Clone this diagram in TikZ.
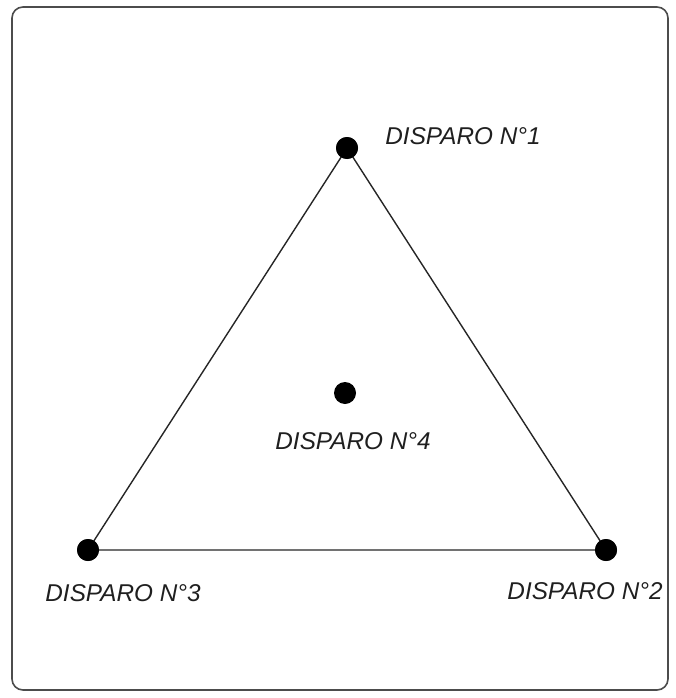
\documentclass[tikz,border=0pt]{standalone}
\usepackage{fontspec}
\setmainfont{Liberation Sans}
\begin{document}
\begin{tikzpicture}[x=1pt,y=-1pt,
  dot/.style={circle,fill=black,inner sep=0pt,minimum size=22pt},
  lbl/.style={font=\fontsize{24.3}{28}\selectfont\itshape,text=black!88,inner sep=0pt},
  edge/.style={line width=1.4pt,black!85}]
\useasboundingbox (0,0) rectangle (676,698);
\draw[line width=1.6pt,black!70,rounded corners=11pt] (12,7) rectangle (668,690);
\node[dot] (d1) at (347,148) {};
\node[dot] (d2) at (606,550) {};
\node[dot] (d3) at (88,550) {};
\node[dot] (d4) at (345,393) {};
\draw[edge] (d1.center) -- (d2.center) -- (d3.center) -- cycle;
\node[dot] at (d1) {};
\node[dot] at (d2) {};
\node[dot] at (d3) {};
\node[lbl] (l1) at (463,136) {DISPARO N°1};
\node[lbl] (l4) at (353,441) {DISPARO N°4};
\node[lbl] (l3) at (123,593) {DISPARO N°3};
\node[lbl] (l2) at (585,591) {DISPARO N°2};
\end{tikzpicture}
\end{document}
